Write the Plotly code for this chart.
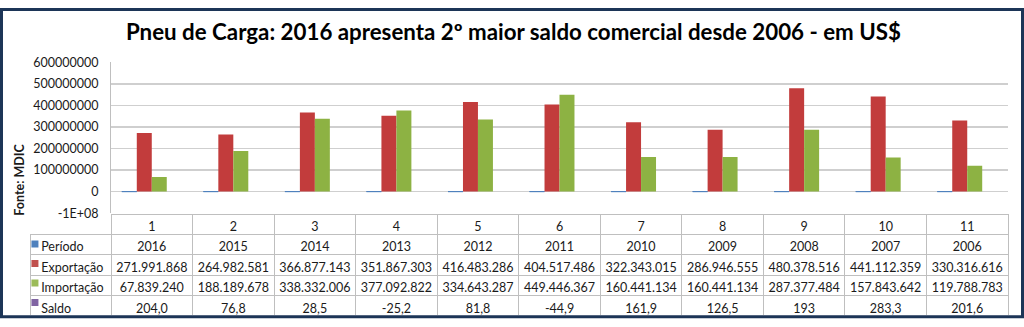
import plotly.graph_objects as go

W, H = 1024, 327

categories = ["1", "2", "3", "4", "5", "6", "7", "8", "9", "10", "11"]
periodo = [2016, 2015, 2014, 2013, 2012, 2011, 2010, 2009, 2008, 2007, 2006]
exportacao = [271991868, 264982581, 366877143, 351867303, 416483286, 404517486,
              322343015, 286946555, 480378516, 441112359, 330316616]
importacao = [67839240, 188189678, 338332006, 377092822, 334643287, 449446367,
              160441134, 160441134, 287377484, 157843642, 119788783]
saldo = [204.0, 76.8, 28.5, -25.2, 81.8, -44.9, 161.9, 126.5, 193, 283.3, 201.6]

series_names = ["Período", "Exportação", "Importação", "Saldo"]
series_colors = ["#4f81bd", "#c0504d", "#9bbb59", "#8064a2"]
bar_colors = ["#4f81bd", "#c23c3c", "#8db243", "#8064a2"]

y_tickvals = [-100000000, 0, 100000000, 200000000, 300000000, 400000000, 500000000, 600000000]
y_ticktext = ["-1E+08", "0", "100000000", "200000000", "300000000", "400000000", "500000000", "600000000"]

title = "Pneu de Carga: 2016 apresenta 2º maior saldo comercial desde 2006 - em US$"
ytitle = "Fonte: MDIC"

FONT = "Lato, 'Open Sans', sans-serif"
TXT = "#1a1a1a"
NB = "\u00a0"


def px(x):
    return x / W


def py(y):
    return 1 - y / H


def fmt_int(v):
    return f"{v:,}".replace(",", ".")


def fmt_saldo(v):
    if isinstance(v, int):
        return str(v)
    return f"{v:.1f}".replace(".", ",")


fig = go.Figure()

series_values = [periodo, exportacao, importacao, saldo]
for name, vals, col in zip(series_names, series_values, bar_colors):
    fig.add_trace(go.Bar(
        x=categories, y=vals, name=name,
        marker=dict(color=col, line=dict(color=col, width=1 if name == "Período" else 0)),
        hoverinfo="skip", showlegend=False,
        xaxis="x", yaxis="y",
    ))

# legend keys for the data table rows
fig.add_trace(go.Scatter(
    x=[0] * len(series_names), y=series_names, mode="markers",
    marker=dict(symbol="square", size=7, color=series_colors, line=dict(width=0)),
    hoverinfo="skip", showlegend=False, xaxis="x2", yaxis="y2",
))

# data table
row_labels = [NB + n for n in series_names]
columns = [row_labels]
for i in range(len(categories)):
    columns.append([
        str(periodo[i]),
        fmt_int(exportacao[i]),
        fmt_int(importacao[i]),
        fmt_saldo(saldo[i]),
    ])

fig.add_trace(go.Table(
    domain=dict(x=[px(30), px(1008)], y=[py(322), py(216)]),
    columnwidth=[81] + [81.5] * len(categories),
    header=dict(
        values=[""] + categories,
        align="center",
        height=20,
        fill=dict(color="rgba(0,0,0,0)"),
        line=dict(color=["rgba(0,0,0,0)"] + ["#bfbfbf"] * len(categories), width=1),
        font=dict(family=FONT, size=12.5, color=TXT),
    ),
    cells=dict(
        values=columns,
        align=["left"] + ["center"] * len(categories),
        height=20.5,
        fill=dict(color="rgba(0,0,0,0)"),
        line=dict(color="#bfbfbf", width=1),
        font=dict(family=FONT, size=12.5, color=TXT),
    ),
))

fig.update_layout(
    width=W, height=H,
    margin=dict(l=0, r=0, t=0, b=0),
    paper_bgcolor="white", plot_bgcolor="white",
    barmode="group", bargap=0.265, bargroupgap=0,
    xaxis=dict(
        domain=[px(111), px(1008)], type="category",
        range=[-0.5, 10.5], showticklabels=False, showgrid=False,
        zeroline=False, showline=False, fixedrange=True,
    ),
    yaxis=dict(
        domain=[py(215), py(57)], range=[-100000000, 600000000],
        tickvals=y_tickvals, ticktext=y_ticktext,
        showgrid=True, gridcolor="#cfcfcf", gridwidth=1.5,
        zeroline=True, zerolinecolor="#cfcfcf", zerolinewidth=1.5,
        showline=True, linecolor="#bfbfbf", linewidth=1,
        ticks="outside", ticklen=9, tickcolor="rgba(0,0,0,0)",
        tickfont=dict(family=FONT, size=12.5, color=TXT),
        fixedrange=True,
    ),
    xaxis2=dict(
        domain=[px(30), px(111)], range=[-0.065, 1], anchor="y2",
        visible=False, fixedrange=True,
    ),
    yaxis2=dict(
        domain=[py(319), py(237)], type="category",
        categoryorder="array", categoryarray=series_names[::-1],
        range=[-0.5, 3.5], anchor="x2", visible=False, fixedrange=True,
    ),
    annotations=[
        dict(text=f"<b>{title}</b>", x=px(513), y=py(25), xref="paper", yref="paper",
             xanchor="center", yanchor="middle", showarrow=False,
             font=dict(family=FONT, size=22.3, color="#000000")),
        dict(text=f"<b>{ytitle}</b>", x=px(20), y=py(180), xref="paper", yref="paper",
             xanchor="center", yanchor="middle", showarrow=False, textangle=-90,
             font=dict(family=FONT, size=12.5, color=TXT)),
    ],
    shapes=[
        dict(type="rect", xref="paper", yref="paper", x0=px(1.5), x1=px(1022.5), y0=py(323.5), y1=py(1.5),
             line=dict(color="#1c3557", width=3), fillcolor="rgba(0,0,0,0)", layer="above"),
    ],
)

fig.write_html(
    "out.html",
    config={"displayModeBar": False, "staticPlot": True},
    post_script="document.body.style.margin='0';document.body.style.overflow='hidden';",
)
